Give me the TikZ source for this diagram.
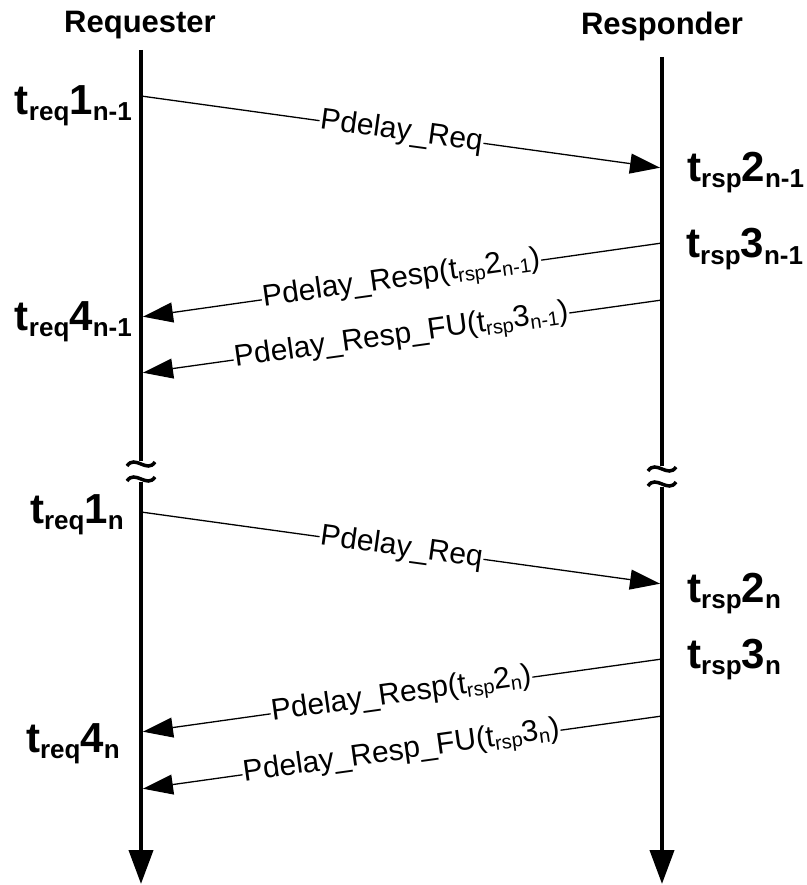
\documentclass[tikz,border=0pt]{standalone}
\usepackage{fontspec}
\setmainfont{Liberation Sans}
\usetikzlibrary{arrows.meta}

\newcommand{\tbig}[3]{t\raisebox{-6pt}{\fontsize{26}{26}\selectfont #1}#2\raisebox{-6pt}{\fontsize{26}{26}\selectfont #3}}
\newcommand{\tsmall}[3]{t\raisebox{-4pt}{\fontsize{20}{20}\selectfont #1}#2\raisebox{-4pt}{\fontsize{20}{20}\selectfont #3}}

\begin{document}
\begin{tikzpicture}[x=1pt, y=-1pt,
  actor/.style = {font=\fontsize{31}{31}\selectfont\bfseries, inner sep=0},
  life/.style = {line width=4pt},
  lifeend/.style = {line width=4pt, -{Triangle[length=34pt, width=24pt]}},
  msg/.style = {line width=1.3pt, shorten <=2pt, shorten >=2pt, -{Triangle[length=30pt, width=20pt]}},
  msglabel/.style = {fill=white, inner sep=1pt, sloped, font=\fontsize{30}{30}\selectfont},
  stamp/.style = {font=\fontsize{42}{42}\selectfont\bfseries, inner sep=0},
  wave/.style = {line width=3.5pt}]
\useasboundingbox (0,0) rectangle (806,885);

\node[actor, anchor=base] (req) at (140,33) {Requester};
\node[actor, anchor=base] (rsp) at (662,35) {Responder};

% lifelines
\coordinate (reqtop) at (141,50);
\coordinate (reqcut) at (141,461);
\coordinate (reqgo) at (141,482);
\coordinate (reqend) at (141,884);
\coordinate (rsptop) at (662,57);
\coordinate (rspcut) at (662,466);
\coordinate (rspgo) at (662,487);
\coordinate (rspend) at (662,884);
\draw[life] (reqtop) -- (reqcut);
\draw[lifeend] (reqgo) -- (reqend);
\draw[life] (rsptop) -- (rspcut);
\draw[lifeend] (rspgo) -- (rspend);
\foreach \x/\y in {141/464, 141/479, 662/469, 662/484}
  \draw[wave] (\x-14,\y+2) .. controls (\x-6,\y-10) and (\x+6,\y+10) .. (\x+14,\y-2);

% events
\coordinate (t1a) at (141,96);
\coordinate (t2a) at (662,168);
\coordinate (t3a) at (662,243);
\coordinate (t4a) at (141,317);
\coordinate (t3b) at (662,300);
\coordinate (t4b) at (141,373);
\coordinate (t1n) at (141,512);
\coordinate (t2n) at (662,584);
\coordinate (t3n) at (662,659);
\coordinate (t4n) at (141,732);
\coordinate (t3nb) at (662,716);
\coordinate (t4nb) at (141,789);

% messages
\draw[msg] (t1a) -- node[msglabel] {Pdelay\_Req} (t2a);
\draw[msg] (t3a) -- node[msglabel] {Pdelay\_Resp(\tsmall{rsp}{2}{n-1})} (t4a);
\draw[msg] (t3b) -- node[msglabel] {Pdelay\_Resp\_FU(\tsmall{rsp}{3}{n-1})} (t4b);
\draw[msg] (t1n) -- node[msglabel] {Pdelay\_Req} (t2n);
\draw[msg] (t3n) -- node[msglabel] {Pdelay\_Resp(\tsmall{rsp}{2}{n})} (t4n);
\draw[msg] (t3nb) -- node[msglabel] {Pdelay\_Resp\_FU(\tsmall{rsp}{3}{n})} (t4nb);

% timestamps
\node[stamp, anchor=base east] (s1a) at (132,115) {\tbig{req}{1}{n-1}};
\node[stamp, anchor=base west] (s2a) at (687,182) {\tbig{rsp}{2}{n-1}};
\node[stamp, anchor=base west] (s3a) at (686,258) {\tbig{rsp}{3}{n-1}};
\node[stamp, anchor=base east] (s4a) at (132,330) {\tbig{req}{4}{n-1}};
\node[stamp, anchor=base east] (s1n) at (124,523) {\tbig{req}{1}{n}};
\node[stamp, anchor=base west] (s2n) at (687,602) {\tbig{rsp}{2}{n}};
\node[stamp, anchor=base west] (s3n) at (687,668) {\tbig{rsp}{3}{n}};
\node[stamp, anchor=base east] (s4n) at (120,752) {\tbig{req}{4}{n}};
\end{tikzpicture}
\end{document}
